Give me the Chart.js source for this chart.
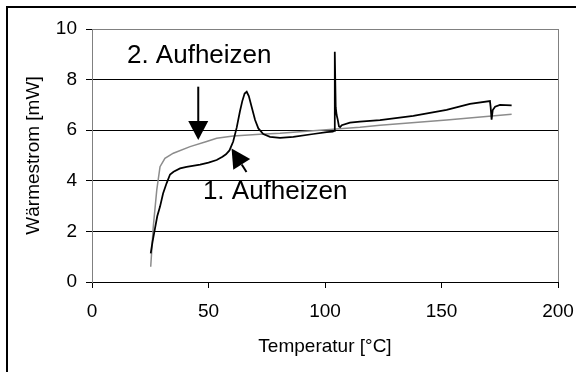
<!DOCTYPE html>
<html>
<head>
<meta charset="utf-8">
<script src="https://cdn.jsdelivr.net/npm/chart.js@4.4.1/dist/chart.umd.min.js"></script>
<style>
  html, body { margin: 0; padding: 0; background: #fff; overflow: hidden; }
  #wrap { position: relative; width: 576px; height: 372px; }
  /* Rahmen um die ganze Grafik (rechts/unten liegt er ausserhalb) */
  #frame { position: absolute; left: 6px; top: 6px; width: 600px; height: 400px; border: 2px solid #000; pointer-events: none; }
</style>
</head>
<body>
<div id="wrap">
  <canvas id="dscChart" width="576" height="372"></canvas>
  <div id="frame"></div>
</div>
<script>
// 1. Aufheizen (schwarz)
const tempHeat1 = [25.2, 26, 27, 28, 29.2, 30.5, 32, 33.5, 35, 37.8, 40.6, 46.4, 50, 53.5, 56, 57.5, 59, 60.6, 62.1, 63.5, 64.5, 65.5, 66.4, 67.3, 68.5, 70, 71.4, 73.5, 76.4, 80.7, 86.4, 95, 100.7, 103.3, 103.9, 104.2, 104.6, 105.0, 105.5, 106.0, 106.5, 107.2, 110.7, 115, 123.6, 137.9, 152.2, 162.2, 170.8, 171.1, 171.5, 172, 173, 175.1, 180.1];
const flowHeat1 = [1.13, 1.6, 2.1, 2.6, 2.98, 3.5, 3.9, 4.25, 4.36, 4.49, 4.55, 4.64, 4.72, 4.82, 4.95, 5.05, 5.2, 5.55, 6.1, 6.75, 7.15, 7.45, 7.52, 7.35, 6.93, 6.4, 6.07, 5.85, 5.74, 5.70, 5.74, 5.85, 5.92, 5.94, 5.97, 9.1, 6.9, 6.6, 6.4, 6.15, 6.12, 6.2, 6.3, 6.34, 6.4, 6.57, 6.8, 7.04, 7.15, 6.9, 6.42, 6.8, 6.93, 7.0, 6.98];

// 2. Aufheizen (grau)
const tempHeat2 = [25.2, 26.3, 27.8, 29.2, 31.3, 34.9, 42.1, 49.2, 53.5, 60.6, 72.1, 80.7, 102, 115, 123.6, 152.2, 180.1];
const flowHeat2 = [0.6, 2.19, 3.64, 4.56, 4.89, 5.09, 5.35, 5.55, 5.68, 5.77, 5.84, 5.88, 6.03, 6.12, 6.2, 6.40, 6.63];

const seriesNames = ['1. Aufheizen', '2. Aufheizen'];
const xTicks = [0, 50, 100, 150, 200];
const yTicks = [0, 2, 4, 6, 8, 10];

const fontFamily = '"Liberation Sans", Arial, sans-serif';

function toPoints(xs, ys) {
    return xs.map((x, i) => ({ x: x, y: ys[i] }));
}

// Pfeil mit gefuellter Spitze von (x0,y0) nach (x1,y1)
function drawArrow(ctx, x0, y0, x1, y1) {
    const ang = Math.atan2(y1 - y0, x1 - x0);
    const head = 19, half = 10;
    const bx = x1 - head * Math.cos(ang);
    const by = y1 - head * Math.sin(ang);
    ctx.lineWidth = 2;
    ctx.beginPath();
    ctx.moveTo(x0, y0);
    ctx.lineTo(bx, by);
    ctx.stroke();
    ctx.beginPath();
    ctx.moveTo(x1, y1);
    ctx.lineTo(bx + half * Math.sin(ang), by - half * Math.cos(ang));
    ctx.lineTo(bx - half * Math.sin(ang), by + half * Math.cos(ang));
    ctx.closePath();
    ctx.fill();
}

// Beschriftung der Kurven direkt im Diagramm
const curveLabels = {
    id: 'curveLabels',
    afterDatasetsDraw(chart) {
        const { ctx, scales: { x, y } } = chart;
        ctx.save();
        ctx.fillStyle = '#000';
        ctx.strokeStyle = '#000';
        ctx.font = '26px ' + fontFamily;
        ctx.textBaseline = 'alphabetic';
        ctx.fillText(seriesNames[1], x.getPixelForValue(15), y.getPixelForValue(8.66));
        ctx.fillText(seriesNames[0], x.getPixelForValue(47.6), y.getPixelForValue(3.28));
        drawArrow(ctx, x.getPixelForValue(45.6), y.getPixelForValue(7.72),
                       x.getPixelForValue(45.6), y.getPixelForValue(5.61));
        drawArrow(ctx, x.getPixelForValue(66.3), y.getPixelForValue(4.35),
                       x.getPixelForValue(59.9), y.getPixelForValue(5.28));
        ctx.restore();
    }
};

new Chart(document.getElementById('dscChart'), {
    type: 'scatter',
    data: {
        datasets: [
            {
                label: seriesNames[0],
                data: toPoints(tempHeat1, flowHeat1),
                showLine: true,
                borderColor: '#000',
                borderWidth: 1.75,
                pointRadius: 0,
                tension: 0
            },
            {
                label: seriesNames[1],
                data: toPoints(tempHeat2, flowHeat2),
                showLine: true,
                borderColor: '#8c8c8c',
                borderWidth: 1.5,
                pointRadius: 0,
                tension: 0
            }
        ]
    },
    options: {
        responsive: false,
        animation: false,
        layout: { padding: { left: 0, top: 29, right: 18, bottom: 0 } },
        plugins: {
            legend: { display: false },
            tooltip: { enabled: false }
        },
        scales: {
            x: {
                type: 'linear',
                min: 0,
                max: 200,
                afterBuildTicks: s => { s.ticks = xTicks.map(v => ({ value: v })); },
                afterFit: s => {
                    s.height = 90;
                    s.paddingLeft = 0;
                    s.paddingRight = 0;
                },
                grid: {
                    color: c => (c.tick && c.tick.value === 200) ? '#808080' : 'rgba(0,0,0,0)',
                    tickColor: '#000',
                    tickLength: 6
                },
                border: { color: '#000', width: 1 },
                ticks: { color: '#000', font: { size: 19, family: fontFamily }, padding: 12, maxRotation: 0 },
                title: {
                    display: true,
                    text: 'Temperatur [°C]',
                    color: '#000',
                    font: { size: 19, family: fontFamily },
                    padding: { top: 0, bottom: 14 }
                }
            },
            y: {
                min: 0,
                max: 10,
                afterBuildTicks: s => { s.ticks = yTicks.map(v => ({ value: v })); },
                afterFit: s => { s.width = 92; },
                grid: {
                    color: c => (c.tick && c.tick.value === 10) ? '#808080' : '#000',
                    tickColor: '#000',
                    tickLength: 6
                },
                border: { color: '#808080', width: 1 },
                ticks: { color: '#000', font: { size: 19, family: fontFamily }, padding: 9 },
                title: {
                    display: true,
                    text: 'Wärmestrom [mW]',
                    color: '#000',
                    font: { size: 19, family: fontFamily },
                    padding: { top: 22, bottom: 0 }
                }
            }
        }
    },
    plugins: [curveLabels]
});
</script>
</body>
</html>
